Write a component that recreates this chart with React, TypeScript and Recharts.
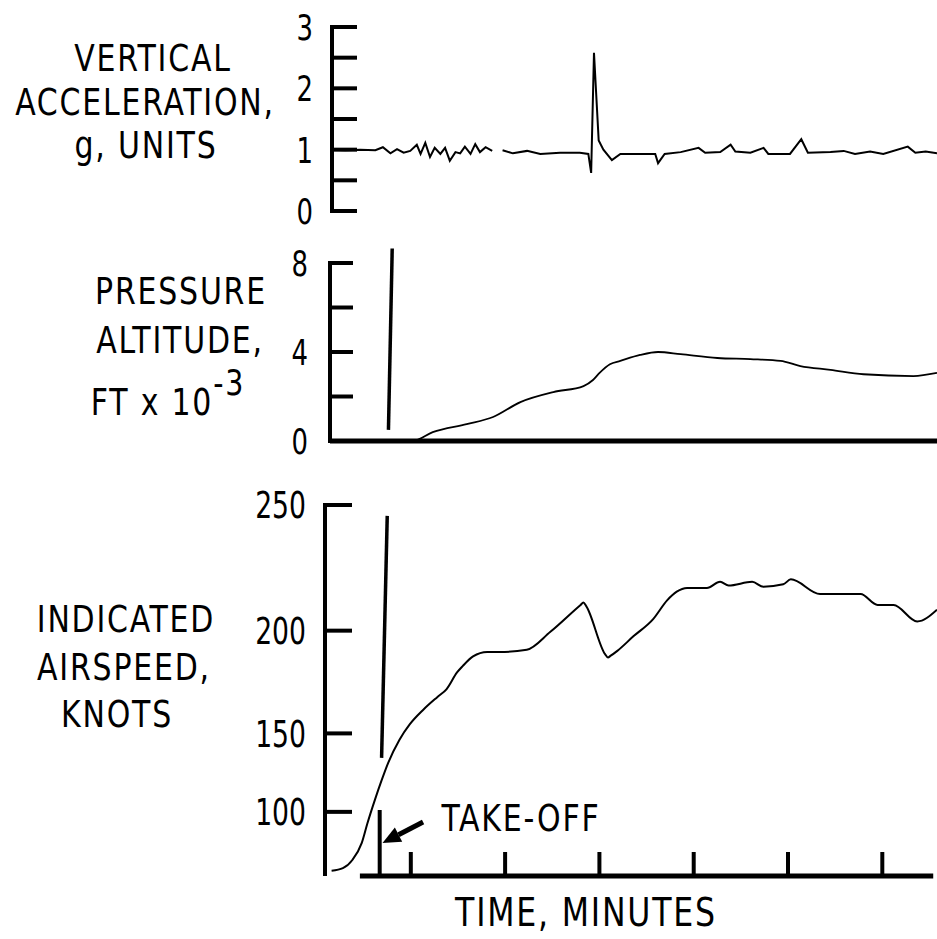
import React from 'react';
import { LineChart, Line, XAxis, YAxis, ReferenceLine } from 'recharts';

const FONT = "'DejaVu Sans Condensed', 'DejaVu Sans', 'Open Sans', sans-serif";

// time in minutes, 0 = first timing mark after lift-off
const accelTime = [
  -0.84, -0.7, -0.54, -0.38, -0.3, -0.22, -0.15, -0.08, -0.01, 0.06, 0.1, 0.15, 0.2, 0.25, 0.31,
  0.36, 0.41, 0.47, 0.52, 0.57, 0.63, 0.68, 0.73, 0.79, 0.86, 0.91, 0.97, 1.08, 1.23, 1.37, 1.58,
  1.79, 1.88, 1.91, 1.94, 1.99, 2.04, 2.13, 2.22, 2.43, 2.59, 2.62, 2.69, 2.86, 3.05, 3.12, 3.28,
  3.39, 3.44, 3.6, 3.74, 3.79, 4.02, 4.14, 4.21, 4.45, 4.59, 4.71, 4.87, 5.01, 5.27, 5.35, 5.46, 5.58,
];
const accelG = [
  1.0, 0.99, 1.0, 0.99, 1.04, 0.94, 1.01, 0.95, 0.98, 1.08, 0.93, 1.11, 0.88, 1.03, 0.93,
  1.03, 0.82, 0.96, 0.94, 1.05, 0.93, 1.09, 0.96, 1.04, 0.98, null, 0.99, 0.94, 0.98, 0.93, 0.95,
  0.95, 0.93, 0.62, 2.58, 1.15, 1.0, 0.83, 0.93, 0.93, 0.93, 0.78, 0.93, 0.96, 1.03, 0.95, 0.96,
  1.08, 0.97, 0.95, 1.03, 0.93, 0.93, 1.17, 0.95, 0.96, 0.98, 0.93, 0.97, 0.93, 1.05, 0.95, 0.97, 0.94,
];

const altTime = [
  -0.86, 0.02, 0.23, 0.59, 0.87, 1.16, 1.51, 1.83, 1.93, 2.0, 2.11, 2.22, 2.43, 2.62, 2.86, 3.25,
  3.6, 3.92, 4.13, 4.45, 4.8, 5.33, 5.58,
];
const altKft = [
  0, 0, 0.4, 0.76, 1.08, 1.75, 2.2, 2.47, 2.74, 3.06, 3.45, 3.6, 3.87, 4.0, 3.9, 3.73,
  3.68, 3.6, 3.37, 3.2, 3.0, 2.92, 3.06,
];

const speedTime = [
  -0.84, -0.72, -0.62, -0.52, -0.46, -0.38, -0.31, -0.24, -0.12, -0.01, 0.13, 0.28, 0.38, 0.49,
  0.55, 0.66, 0.81, 0.94, 1.23, 1.48, 1.8, 1.83, 1.86, 2.06, 2.09, 2.12, 2.19, 2.36, 2.57, 2.72,
  2.82, 2.93, 3.14, 3.28, 3.37, 3.62, 3.74, 3.95, 4.03, 4.34, 4.77, 4.95, 5.12, 5.37, 5.58,
];
const speedKnots = [
  40, 44, 55, 73.5, 91, 109, 122, 133, 146.5, 155, 162.5, 169, 173, 181,
  184, 188.5, 190.5, 190.5, 191.5, 199.5, 211, 212, 210.5, 189.5, 188, 188.8, 191, 197.5, 205, 213,
  216.5, 218, 218, 220.5, 219, 220.5, 218.5, 219.5, 221.5, 215.5, 215.5, 211, 211, 204, 209,
];

const accelTicks = [0, 0.5, 1, 1.5, 2, 2.5, 3];
const accelLabels = [0, 1, 2, 3];
const altTicks = [0, 2, 4, 6, 8];
const altLabels = [0, 4, 8];
const speedTicks = [100, 150, 200, 250];
const timeTicks = [0, 1, 2, 3, 4, 5];
const takeOffTime = -0.33;

// the two long timing strokes drawn across the traces
const altMarker = [{ x: -0.2, y: 8.65 }, { x: -0.24, y: 0.5 }];
const speedMarker = [{ x: -0.25, y: 246 }, { x: -0.31, y: 136 }];
const takeOffArrow = [{ x: 0.13, y: 92 }, { x: -0.3, y: 73.5 }];
const timeBase = [{ x: -0.54, y: 31 }, { x: 5.54, y: 31 }];

const zip = (xs: number[], ys: (number | null)[]) => xs.map((t, i) => ({ t, v: ys[i] }));
const accelData = zip(accelTime, accelG);
const altData = zip(altTime, altKft);
const speedData = zip(speedTime, speedKnots);

// airspeed scale on the original is stretched at the top (roughly v^1.8)
function powScale(exponent: number): any {
  let dom = [0, 1];
  let rng = [0, 1];
  const f = (v: number) => Math.sign(v) * Math.pow(Math.abs(v), exponent);
  const fi = (p: number) => Math.sign(p) * Math.pow(Math.abs(p), 1 / exponent);
  const scale: any = (v: number) => {
    const a = f(dom[0]);
    const b = f(dom[dom.length - 1]);
    return rng[0] + ((f(Number(v)) - a) / (b - a)) * (rng[rng.length - 1] - rng[0]);
  };
  scale.domain = (d?: any[]) => {
    if (d === undefined) return dom.slice();
    dom = d.map(Number);
    return scale;
  };
  scale.range = (r?: any[]) => {
    if (r === undefined) return rng.slice();
    rng = r.map(Number);
    return scale;
  };
  scale.invert = (y: number) => {
    const a = f(dom[0]);
    const b = f(dom[dom.length - 1]);
    return fi(a + ((y - rng[0]) / (rng[rng.length - 1] - rng[0])) * (b - a));
  };
  scale.ticks = (n = 5) => {
    const lo = dom[0];
    const hi = dom[dom.length - 1];
    const step = Math.pow(10, Math.floor(Math.log10((hi - lo) / n)));
    const out: number[] = [];
    for (let v = Math.ceil(lo / step) * step; v <= hi; v += step) out.push(v);
    return out;
  };
  scale.tickFormat = () => (d: number) => String(d);
  scale.nice = () => scale;
  scale.clamp = () => scale;
  scale.copy = () => powScale(exponent).domain(dom).range(rng);
  return scale;
}
const speedScale = powScale(1.8);

function makeYTick(labels: number[], len: number, size: number, gap: number) {
  return (props: any) => {
    const { x, y, payload } = props;
    const v = payload.value;
    return (
      <g>
        <line x1={x - 2} y1={y} x2={x + len} y2={y} stroke="#000" strokeWidth={4} />
        {labels.includes(v) && (
          <text
            transform={`translate(${x - gap},${y}) scale(0.8,1)`}
            dy="0.36em"
            textAnchor="end"
            fontSize={size}
            fontFamily={FONT}
            fill="#000"
          >
            {v}
          </text>
        )}
      </g>
    );
  };
}

const TimeTick = (props: any) => {
  const { x, y, payload } = props;
  const len = payload.value === takeOffTime ? 66 : 24;
  return <line x1={x} y1={y} x2={x} y2={y - len} stroke="#000" strokeWidth={4} />;
};

const Arrow = (props: any) => {
  const { x1, y1, x2, y2 } = props;
  const ang = Math.atan2(y2 - y1, x2 - x1);
  const L = 18;
  const W = 8;
  const bx = x2 - L * Math.cos(ang);
  const by = y2 - L * Math.sin(ang);
  const px = W * Math.sin(ang);
  const py = W * Math.cos(ang);
  return (
    <g>
      <line x1={x1} y1={y1} x2={bx} y2={by} stroke="#000" strokeWidth={5} />
      <polygon points={`${x2},${y2} ${bx - px},${by + py} ${bx + px},${by - py}`} fill="#000" />
    </g>
  );
};

const axisStyle = { stroke: '#000', strokeWidth: 4 };

function Txt({ cx, cy, size = 37, sx = 0.9, children }: { cx: number; cy: number; size?: number; sx?: number; children: React.ReactNode }) {
  return (
    <div
      style={{
        position: 'absolute',
        left: cx,
        top: cy,
        transform: `translate(-50%, -50%) scaleX(${sx})`,
        whiteSpace: 'nowrap',
        fontFamily: FONT,
        fontSize: size,
        lineHeight: 1,
        letterSpacing: 2,
        color: '#000',
      }}
    >
      {children}
    </div>
  );
}

export default function App() {
  return (
    <div style={{ position: 'absolute', left: 0, top: 0, width: 937, height: 939, background: '#fff', overflow: 'hidden' }}>
      {/* vertical acceleration */}
      <div style={{ position: 'absolute', left: 0, top: 0 }}>
        <LineChart width={937} height={240} data={accelData} margin={{ top: 27, right: 0, bottom: 29, left: 0 }}>
          <XAxis dataKey="t" type="number" domain={[-0.84, 5.58]} hide allowDataOverflow />
          <YAxis
            type="number"
            domain={[0, 3]}
            ticks={accelTicks}
            interval={0}
            width={332}
            tickSize={0}
            tickMargin={0}
            tickLine={false}
            axisLine={axisStyle}
            tick={makeYTick(accelLabels, 25, 36, 19)}
          />
          <Line dataKey="v" type="linear" stroke="#000" strokeWidth={2} dot={false} isAnimationActive={false} />
        </LineChart>
      </div>

      {/* pressure altitude */}
      <div style={{ position: 'absolute', left: 0, top: 240 }}>
        <LineChart width={937} height={230} data={altData} margin={{ top: 23, right: 0, bottom: 29, left: 0 }}>
          <XAxis dataKey="t" type="number" domain={[-0.86, 5.58]} hide allowDataOverflow />
          <YAxis
            type="number"
            domain={[0, 8]}
            ticks={altTicks}
            interval={0}
            width={330}
            tickSize={0}
            tickMargin={0}
            tickLine={false}
            axisLine={axisStyle}
            tick={makeYTick(altLabels, 23, 36, 22)}
          />
          <ReferenceLine y={0} stroke="#000" strokeWidth={5} />
          <ReferenceLine segment={altMarker} stroke="#000" strokeWidth={3.5} ifOverflow="visible" />
          <Line dataKey="v" type="monotone" stroke="#000" strokeWidth={1.8} dot={false} isAnimationActive={false} />
        </LineChart>
      </div>

      {/* indicated airspeed */}
      <div style={{ position: 'absolute', left: 0, top: 470 }}>
        <LineChart width={937} height={469} data={speedData} margin={{ top: 35, right: 0, bottom: 0, left: 0 }}>
          <XAxis
            dataKey="t"
            type="number"
            domain={[-0.91, 5.58]}
            allowDataOverflow
            height={63}
            ticks={[takeOffTime, ...timeTicks]}
            interval={0}
            tickSize={0}
            tickMargin={0}
            tickLine={false}
            axisLine={false}
            tick={TimeTick}
          />
          <YAxis
            type="number"
            scale={speedScale}
            domain={[31, 250]}
            allowDataOverflow
            ticks={speedTicks}
            interval={0}
            width={325}
            tickSize={0}
            tickMargin={0}
            tickLine={false}
            axisLine={axisStyle}
            tick={makeYTick(speedTicks, 27, 37, 19)}
          />
          <ReferenceLine segment={timeBase} stroke="#000" strokeWidth={5} ifOverflow="visible" />
          <ReferenceLine segment={speedMarker} stroke="#000" strokeWidth={3.5} ifOverflow="visible" />
          <ReferenceLine segment={takeOffArrow} ifOverflow="visible" shape={Arrow} />
          <Line dataKey="v" type="monotone" stroke="#000" strokeWidth={2} dot={false} isAnimationActive={false} />
        </LineChart>
      </div>

      <Txt cx={153} cy={58}>VERTICAL</Txt>
      <Txt cx={145} cy={102}>ACCELERATION,</Txt>
      <Txt cx={146} cy={145}>g, UNITS</Txt>

      <Txt cx={181} cy={291}>PRESSURE</Txt>
      <Txt cx={180} cy={340}>ALTITUDE,</Txt>
      <Txt cx={168} cy={402}>
        FT x 10<span style={{ position: 'relative', top: '-0.58em', fontSize: '0.95em' }}>-3</span>
      </Txt>

      <Txt cx={126} cy={619}>INDICATED</Txt>
      <Txt cx={124} cy={667}>AIRSPEED,</Txt>
      <Txt cx={117} cy={714}>KNOTS</Txt>

      <Txt cx={521} cy={818}>TAKE-OFF</Txt>
      <Txt cx={586} cy={912} size={39}>TIME, MINUTES</Txt>
    </div>
  );
}
